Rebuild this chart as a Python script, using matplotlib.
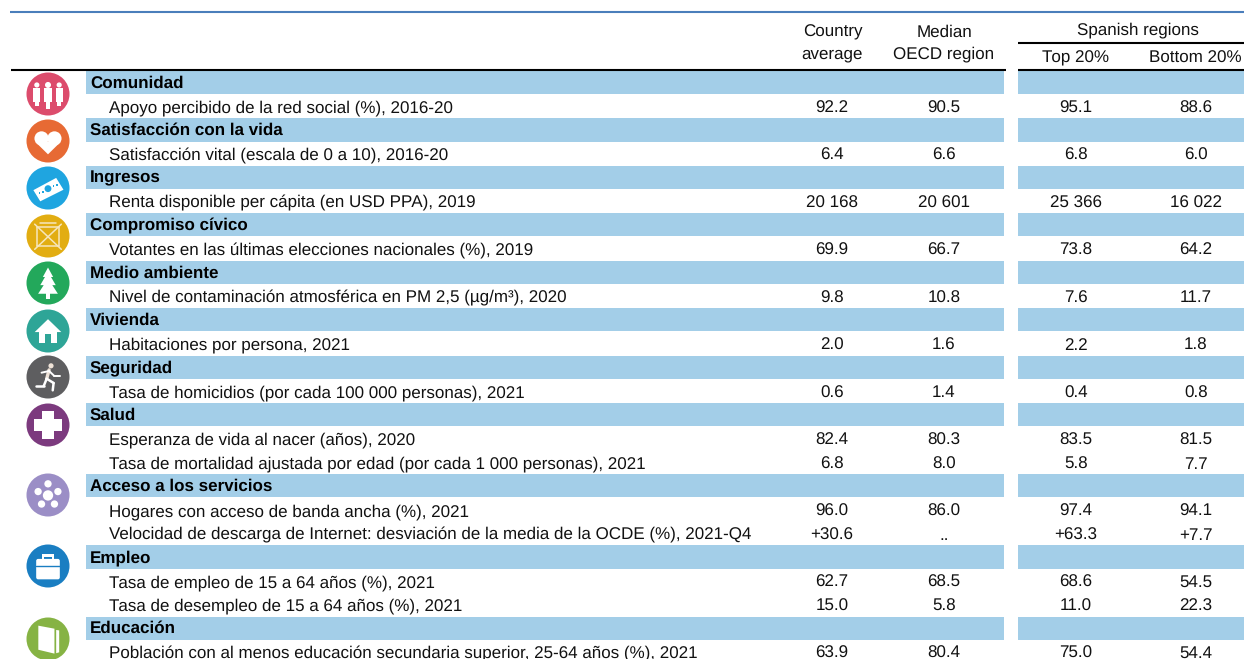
import matplotlib
matplotlib.use("Agg")
import matplotlib.pyplot as plt
from matplotlib.patches import Circle, Rectangle, Polygon, FancyBboxPatch

plt.rcParams["font.family"] = ["Liberation Sans", "DejaVu Sans"]
plt.rcParams["text.hinting"] = "no_hinting"
plt.rcParams["text.hinting_factor"] = 1

secciones = ["Comunidad", "Satisfacción con la vida", "Ingresos", "Compromiso cívico", "Medio ambiente",
             "Vivienda", "Seguridad", "Salud", "Acceso a los servicios", "Empleo", "Educación"]

etiquetas = [
    "Comunidad",
    "Apoyo percibido de la red social (%), 2016-20",
    "Satisfacción con la vida",
    "Satisfacción vital (escala de 0 a 10), 2016-20",
    "Ingresos",
    "Renta disponible per cápita (en USD PPA), 2019",
    "Compromiso cívico",
    "Votantes en las últimas elecciones nacionales (%), 2019",
    "Medio ambiente",
    "Nivel de contaminación atmosférica en PM 2,5 (µg/m³), 2020",
    "Vivienda",
    "Habitaciones por persona, 2021",
    "Seguridad",
    "Tasa de homicidios (por cada 100 000 personas), 2021",
    "Salud",
    "Esperanza de vida al nacer (años), 2020",
    "Tasa de mortalidad ajustada por edad (por cada 1 000 personas), 2021",
    "Acceso a los servicios",
    "Hogares con acceso de banda ancha (%), 2021",
    "Velocidad de descarga de Internet: desviación de la media de la OCDE (%), 2021-Q4",
    "Empleo",
    "Tasa de empleo de 15 a 64 años (%), 2021",
    "Tasa de desempleo de 15 a 64 años (%), 2021",
    "Educación",
    "Población con al menos educación secundaria superior, 25-64 años (%), 2021",
]

pais = ["", "92.2", "", "6.4", "", "20 168", "", "69.9", "", "9.8", "", "2.0", "", "0.6", "", "82.4", "6.8",
        "", "96.0", "+30.6", "", "62.7", "15.0", "", "63.9"]
ocde = ["", "90.5", "", "6.6", "", "20 601", "", "66.7", "", "10.8", "", "1.6", "", "1.4", "", "80.3", "8.0",
        "", "86.0", "..", "", "68.5", "5.8", "", "80.4"]
top20 = ["", "95.1", "", "6.8", "", "25 366", "", "73.8", "", "7.6", "", "2.2", "", "0.4", "", "83.5", "5.8",
         "", "97.4", "+63.3", "", "68.6", "11.0", "", "75.0"]
bottom20 = ["", "88.6", "", "6.0", "", "16 022", "", "64.2", "", "11.7", "", "1.8", "", "0.8", "", "81.5", "7.7",
            "", "94.1", "+7.7", "", "54.5", "22.3", "", "54.4"]

colores_icono = ["#DC4C6C", "#E76A34", "#1FA5E0", "#E2AD12", "#23A85B", "#2EA597",
                 "#5E5E60", "#7C3A7E", "#9B8EC6", "#1A7EC2", "#86B344"]
y_icono = [94, 141, 188, 236, 283, 331, 377, 425, 495, 566, 639]

azul = "#A3CEE8"
fs = 12.2
alto_fila = 23.72
y0 = 71

fig = plt.figure(figsize=(12.44, 6.59), dpi=100)
ax = fig.add_axes([0, 0, 1, 1])
ax.set_xlim(0, 1244)
ax.set_ylim(659, 0)
ax.axis("off")


def glifo(i, cx, cy, r):
    # dibujos blancos muy simples dentro de cada circulo
    def P(x, y):
        return (cx + x * r, cy + y * r)

    def rect(x, y, w, h, color="white"):
        ax.add_patch(Rectangle(P(x, y), w * r, h * r, fc=color, ec="none"))

    def circ(x, y, s, color="white"):
        ax.add_patch(Circle(P(x, y), s * r, fc=color, ec="none"))

    def poli(pts, color="white"):
        ax.add_patch(Polygon([P(*p) for p in pts], fc=color, ec="none"))

    def linea(a, b, w=1.4, color="white"):
        ax.plot(*zip(P(*a), P(*b)), color=color, lw=w, solid_capstyle="round")

    fondo = colores_icono[i]
    if i == 0:  # tres personas
        for x, s in [(-0.52, 0.12), (0, 0.14), (0.52, 0.12)]:
            circ(x, -0.42, s)
            rect(x - 0.17, -0.27, 0.34, 0.62)
            rect(x - 0.1, 0.3, 0.2, 0.4 if x == 0 else 0.25)
    elif i == 1:  # corazon
        circ(-0.3, -0.12, 0.33)
        circ(0.3, -0.12, 0.33)
        poli([(-0.6, 0.03), (0.6, 0.03), (0, 0.62)])
    elif i == 2:  # billete
        poli([(-0.68, 0.1), (0.38, -0.47), (0.72, 0.08), (-0.36, 0.62)])
        circ(0.0, 0.03, 0.16, fondo)
        for k in range(7):
            x = -0.42 + k * 0.16
            rect(x, 0.2 - k * 0.08, 0.07, 0.09, fondo)
    elif i == 3:  # urna
        for a, b in [((-0.62, -0.55), (0.62, 0.62)), ((0.62, -0.55), (-0.62, 0.62)), ((-0.5, -0.42), (0.5, -0.42)),
                     ((-0.5, -0.42), (-0.5, 0.48)), ((0.5, -0.42), (0.5, 0.48)), ((-0.5, 0.48), (0.5, 0.48)),
                     ((-0.38, -0.6), (0.38, -0.6))]:
            linea(a, b, 1.1, "#F6E6BC")
    elif i == 4:  # arbol
        poli([(0, -0.72), (-0.24, -0.28), (-0.14, -0.28), (-0.36, 0.1), (-0.2, 0.1), (-0.46, 0.5),
              (0.46, 0.5), (0.2, 0.1), (0.36, 0.1), (0.14, -0.28), (0.24, -0.28)])
        rect(-0.1, 0.45, 0.2, 0.28)
    elif i == 5:  # casa
        poli([(0, -0.55), (-0.62, 0.05), (0.62, 0.05)])
        rect(-0.4, 0, 0.8, 0.55)
        rect(-0.14, 0.14, 0.28, 0.41, fondo)
    elif i == 6:  # corredor
        circ(0.14, -0.52, 0.12, "#EFE3D8")
        linea((0.05, -0.33), (-0.06, 0.08), 2.4, "#EFE3D8")
        linea((-0.06, 0.08), (0.26, 0.28), 1.8)
        linea((0.26, 0.28), (0.22, 0.62), 1.8)
        linea((-0.06, 0.08), (-0.2, 0.42), 1.8)
        linea((-0.2, 0.42), (-0.55, 0.42), 1.8)
        linea((0.05, -0.28), (-0.3, -0.2), 1.4)
        linea((0.05, -0.28), (0.28, -0.06), 1.4)
        linea((0.28, -0.06), (0.55, -0.06), 1.4)
    elif i == 7:  # cruz
        rect(-0.27, -0.66, 0.54, 1.32)
        rect(-0.66, -0.27, 1.32, 0.54)
    elif i == 8:  # red
        circ(0, 0.02, 0.24)
        for x, y in [(0, -0.52), (0.46, -0.16), (0.3, 0.42), (-0.3, 0.42), (-0.46, -0.16)]:
            circ(x, y, 0.17)
    elif i == 9:  # maletin
        ax.add_patch(FancyBboxPatch(P(-0.55, -0.33), 1.1 * r, 0.95 * r, boxstyle="round,pad=0,rounding_size=2",
                                    fc="white", ec="none"))
        rect(-0.28, -0.55, 0.56, 0.12)
        rect(-0.28, -0.55, 0.1, 0.25)
        rect(0.18, -0.55, 0.1, 0.25)
        linea((-0.55, 0.02), (0.55, 0.02), 1, fondo)
    elif i == 10:  # libro
        poli([(-0.45, -0.62), (0.3, -0.48), (0.3, 0.68), (-0.45, 0.5)])
        poli([(0.38, -0.42), (0.52, -0.4), (0.52, 0.62), (0.38, 0.66)])


# bandas azules de cada seccion
for n, texto in enumerate(etiquetas):
    if texto in secciones:
        y = y0 + n * alto_fila
        ax.add_patch(Rectangle((86, y), 918, alto_fila - 0.6, fc=azul, ec="none"))
        ax.add_patch(Rectangle((1018, y), 226, alto_fila - 0.6, fc=azul, ec="none"))

# lineas
ax.plot([10, 1244], [12, 12], color="#4A7EBB", lw=1.5, solid_capstyle="butt")
ax.plot([11, 1006], [70, 70], color="black", lw=1.5, solid_capstyle="butt")
ax.plot([1018, 1244], [70, 70], color="black", lw=1.5, solid_capstyle="butt")
ax.plot([1018, 1244], [43, 43], color="black", lw=1.5, solid_capstyle="butt")

# cabecera (y = linea base del texto)
for x, y, t in [(833, 36.7, "Country"), (832, 58.3, "average"), (944, 36.7, "Median"), (944, 58.3, "OECD region"),
                (1138, 34, "Spanish regions"), (1076, 62.7, "Top 20%"), (1195, 62.7, "Bottom 20%")]:
    ax.text(x, y, t, ha="center", va="baseline", fontsize=fs, color="#111111")

# filas
for n, texto in enumerate(etiquetas):
    fondo_fila = y0 + (n + 1) * alto_fila
    if texto in secciones:
        ax.text(90, fondo_fila - 7, texto, ha="left", va="baseline", fontsize=fs, fontweight="bold", color="black")
    else:
        ax.text(109, fondo_fila - 5.7, texto, ha="left", va="baseline", fontsize=fs, color="#111111", clip_on=True)
    for x, col in zip([832, 944, 1076, 1196], [pais, ocde, top20, bottom20]):
        if col[n]:
            ax.text(x, fondo_fila - 5.7, col[n], ha="center", va="baseline", fontsize=fs, color="#111111", clip_on=True)

# iconos
for i, (c, y) in enumerate(zip(colores_icono, y_icono)):
    ax.add_patch(Circle((48, y), 21.5, fc=c, ec="none"))
    glifo(i, 48, y, 21.5)

fig.savefig("out.png", dpi=100)
